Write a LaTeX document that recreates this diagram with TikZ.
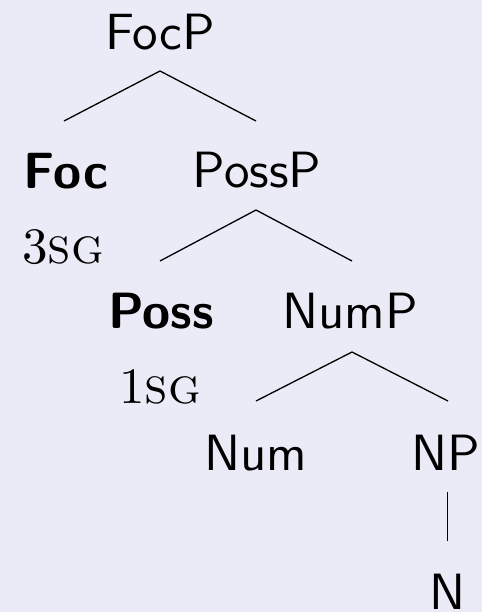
\documentclass[tikz,border=0pt]{standalone}
\usepackage{fontspec}
\setmainfont{lmroman10-regular}[Extension=.otf, SmallCapsFont=lmromancaps10-regular]
\setsansfont{lmsans10-regular}[Extension=.otf, BoldFont=lmsans10-bold]
\usetikzlibrary{calc}
\definecolor{bg}{RGB}{235,235,247}
\tikzset{
  lab/.style={font=\fontsize{51}{62}\selectfont\sffamily, inner sep=0pt, anchor=base},
  head/.style={font=\fontsize{51}{62}\selectfont\sffamily\bfseries, inner sep=0pt, anchor=base},
  feat/.style={font=\fontsize{51}{62}\selectfont\rmfamily, inner sep=0pt, anchor=base},
  branch/.style={line width=1.3pt},
  unary/.style={line width=0.9pt}
}
\begin{document}
\begin{tikzpicture}[x=1pt,y=-1pt]
\fill[bg] (0,0) rectangle (482,612);
\useasboundingbox (0,0) rectangle (482,612);
\node[lab] (FocP) at (160,50) {FocP};
\node[head] (Foc) at (66,189) {Foc};
\node[lab] (PossP) at (257,188) {PossP};
\node[feat] (f3) at (63,263) {3\textsc{sg}};
\node[head] (Poss) at (161,328) {Poss};
\node[lab] (NumP) at (350,328) {NumP};
\node[feat] (f1) at (160,403) {1\textsc{sg}};
\node[lab] (Num) at (256,470) {Num};
\node[lab] (NP) at (446,470) {NP};
\node[lab] (N) at (448,609) {N};
\draw[branch] ($(Foc.base)+(-2,-68)$) -- ($(FocP.base)+(0,21)$) -- ($(PossP.base)+(-1,-67)$);
\draw[branch] ($(Poss.base)+(-1,-67)$) -- ($(PossP.base)+(-1,22)$) -- ($(NumP.base)+(2,-67)$);
\draw[branch] ($(Num.base)+(0,-69)$) -- ($(NumP.base)+(2,24)$) -- ($(NP.base)+(2,-69)$);
\draw[unary] ($(NP.base)+(1,22)$) -- ($(N.base)+(-1,-68)$);
\end{tikzpicture}
\end{document}
